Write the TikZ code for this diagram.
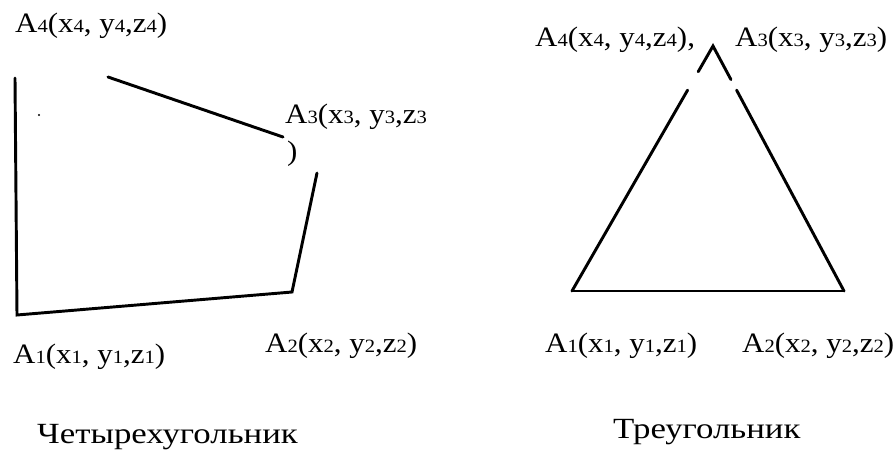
\documentclass[tikz,border=0pt]{standalone}
\usepackage{fontspec}
\setmainfont{Liberation Serif}[FakeStretch=1.1]
\newfontfamily\capfont{Liberation Serif}[FakeStretch=1.19]
\usetikzlibrary{calc,positioning}
\newcommand{\ix}[1]{{\fontsize{16}{16}\selectfont #1}}

\begin{document}
\begin{tikzpicture}[x=0.3mm,y=-0.3mm,
    side/.style={line width=2.5pt,line cap=round},
    ptlbl/.style={anchor=base west,inner sep=0pt,font=\fontsize{24}{28}\selectfont},
    figname/.style={anchor=base west,inner sep=0pt,font=\capfont\fontsize{25}{28}\selectfont}]
   \useasboundingbox (0,0) rectangle (895,452);
   % quadrilateral
   \coordinate (Q1)  at (17,315);
   \coordinate (Q2)  at (292,292);
   \coordinate (Q3a) at (317,173);
   \coordinate (Q3b) at (283,137);
   \coordinate (Q4a) at (108,77);
   \coordinate (Q4b) at (15,78);
   \draw[side] (Q4b) -- (Q1) -- (Q2) -- (Q3a);
   \draw[side] (Q4a) -- (Q3b);
   \fill (39,115) circle (1.2);
   \node[ptlbl] (q4) at (15,32) {A\ix4(x\ix4, y\ix4,z\ix4)};
   \node[ptlbl] (q3) at (285,123) {A\ix3(x\ix3, y\ix3,z\ix3};
   \node[ptlbl] (q3p) at (287,160) {)};
   \node[ptlbl] (q1) at (13,363) {A\ix1(x\ix1, y\ix1,z\ix1)};
   \node[ptlbl] (q2) at (265,352) {A\ix2(x\ix2, y\ix2,z\ix2)};
   \node[figname] (qname) at (37,443) {Четырехугольник};
   % triangle
   \coordinate (T1)   at (572,291);
   \coordinate (T2)   at (844,291);
   \coordinate (Ttop) at (713,46);
   \draw[side] (T1) -- (T2);
   \draw[side] (T1) -- ($(T1)!0.82!(Ttop)$);
   \draw[side] (T2) -- ($(T2)!0.82!(Ttop)$);
   \draw[side] ($(T1)!0.895!(Ttop)$) -- (Ttop) -- ($(T2)!0.863!(Ttop)$);
   \node[ptlbl] (t4) at (535,46) {A\ix4(x\ix4, y\ix4,z\ix4),};
   \node[ptlbl] (t3) at (735,46) {A\ix3(x\ix3, y\ix3,z\ix3)};
   \node[ptlbl] (t1) at (545,352) {A\ix1(x\ix1, y\ix1,z\ix1)};
   \node[ptlbl] (t2) at (742,352) {A\ix2(x\ix2, y\ix2,z\ix2)};
   \node[figname] (tname) at (613,438) {Треугольник};
\end{tikzpicture}
\end{document}
